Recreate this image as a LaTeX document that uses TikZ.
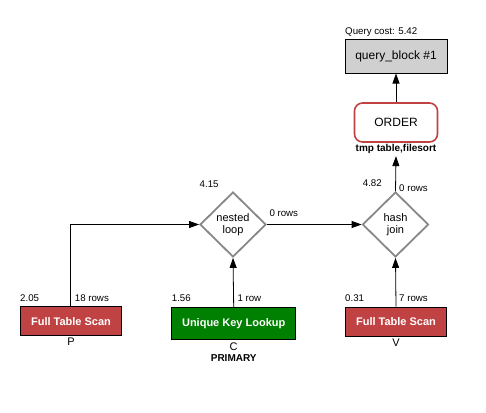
\documentclass[tikz,border=0pt]{standalone}
\usepackage{fontspec}
\setmainfont{Liberation Sans}
\usetikzlibrary{shapes.geometric,arrows.meta}
\definecolor{scanred}{HTML}{C14242}
\definecolor{lookupgreen}{HTML}{008000}
\definecolor{qgray}{HTML}{D0D0D0}
\definecolor{dgray}{HTML}{888888}
\tikzset{
  lbl/.style={font=\fontsize{9.7}{11}\selectfont, inner sep=0pt},
  oprect/.style={draw=black, line width=1pt, minimum width=101pt, minimum height=29pt, inner sep=0pt, text=white, font=\fontsize{11}{13}\selectfont\bfseries},
  joinnode/.style={diamond, draw=dgray, line width=1.8pt, minimum width=66pt, minimum height=65pt, inner sep=0pt, align=center, font=\fontsize{11}{12}\selectfont, fill=white},
  conn/.style={line width=0.8pt, -{Triangle[length=10pt,width=7pt]}},
  sub/.style={font=\fontsize{11}{13}\selectfont, inner sep=0pt},
  subb/.style={font=\fontsize{10}{12}\selectfont\bfseries, inner sep=0pt}
}
\begin{document}
\begin{tikzpicture}[x=1pt,y=-1pt]
\useasboundingbox (0,0) rectangle (486,412);
% top block
\node[draw=black, line width=1pt, fill=qgray, minimum width=102pt, minimum height=33pt, inner sep=0pt, font=\fontsize{12}{14}\selectfont] (qb) at (396,56.5) {query\_block \#1};
\node[lbl, anchor=west] (qcost) at (345,32.3) {Query cost: 5.42};
\node[draw=scanred, line width=1.6pt, rounded corners=8pt, fill=white, minimum width=83pt, minimum height=39pt, inner sep=0pt, font=\fontsize{12}{14}\selectfont] (order) at (396,122.5) {ORDER};
\node[subb] (ordlbl) at (396,149.3) {tmp table,filesort};
% joins
\node[joinnode] (nl) at (233,224.5) {nested\\loop};
\node[joinnode] (hj) at (395.5,224.5) {hash\\join};
\node[lbl, anchor=west] (nlcost) at (199.5,184) {4.15};
\node[lbl, anchor=west] (hjcost) at (362.7,183.3) {4.82};
\node[lbl, anchor=west] (nlrows) at (269.3,212.7) {0 rows};
\node[lbl, anchor=west] (hjrows) at (399,188.3) {0 rows};
% tables
\node[oprect, fill=scanred] (p) at (71,321.2) {Full Table Scan};
\node[oprect, fill=lookupgreen, minimum width=124pt, minimum height=32pt] (c) at (233.7,323.3) {Unique Key Lookup};
\node[oprect, fill=scanred] (v) at (396,321.5) {Full Table Scan};
\node[sub] (plbl) at (71,342) {P};
\node[sub] (clbl) at (233.7,346.5) {C};
\node[subb] (cidx) at (233.7,358.3) {PRIMARY};
\node[sub] (vlbl) at (396,342.3) {V};
\node[lbl, anchor=west] (pcost) at (20,298.3) {2.05};
\node[lbl, anchor=west] (prows) at (74.7,298.3) {18 rows};
\node[lbl, anchor=west] (ccost) at (171.7,298.3) {1.56};
\node[lbl, anchor=west] (crows) at (237.3,298.3) {1 row};
\node[lbl, anchor=west] (vcost) at (345,298.3) {0.31};
\node[lbl, anchor=west] (vrows) at (399,298.3) {7 rows};
% connectors
\draw[conn] (p.north -| 70,0) |- (nl.west);
\draw[conn] (c.north) -- (nl.south);
\draw[conn] (nl.east) -- (hj.west);
\draw[conn] (v.north) -- (hj.south);
\draw[conn] (hj.north) -- ([yshift=-2pt]ordlbl.south);
\draw[conn] (order.north) -- (qb.south);
\end{tikzpicture}
\end{document}
